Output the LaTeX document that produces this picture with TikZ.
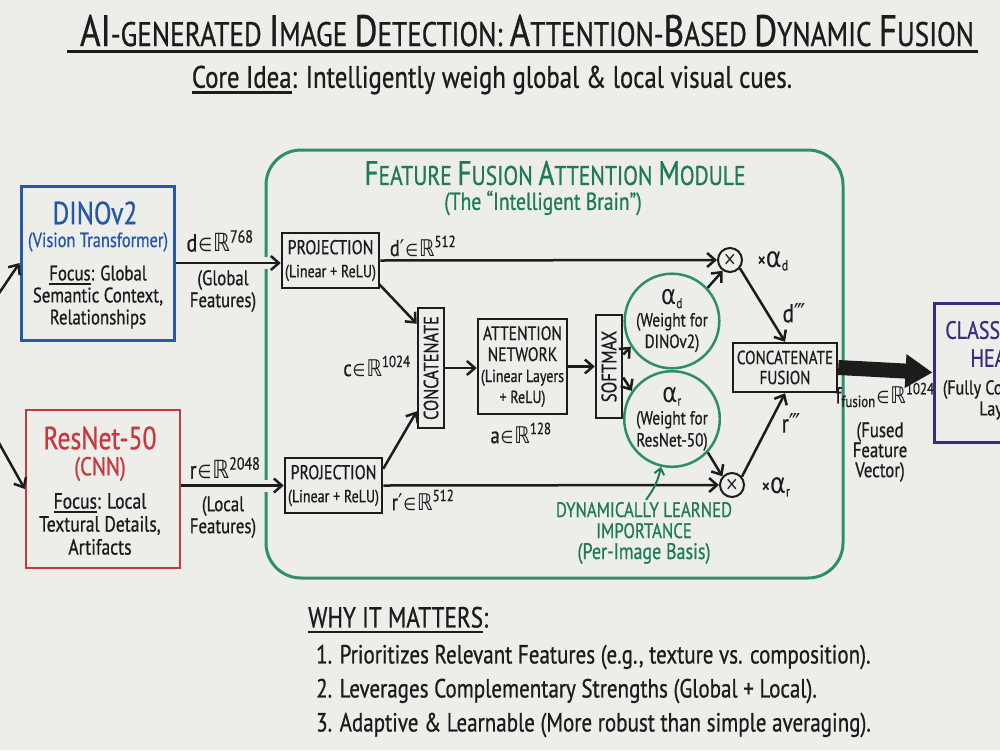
\documentclass[tikz,border=0pt]{standalone}
\usepackage{fontspec}
\setmainfont{PT Sans}[FakeStretch=0.8,FakeBold=0.7]
\newfontfamily\sym{DejaVu Sans}[FakeStretch=0.85]
\usetikzlibrary{arrows.meta,calc}
\definecolor{bd}{HTML}{2559A8}
\definecolor{rd}{HTML}{C63A3E}
\definecolor{gr}{HTML}{2E8E6C}
\definecolor{grt}{HTML}{1F7A58}
\definecolor{pu}{HTML}{3A2C7C}
\definecolor{ink}{HTML}{1C1C1C}
\definecolor{bgc}{HTML}{EDEDEA}
\newcommand\fs[2]{\fontsize{#1}{#2}\selectfont}
\newcommand\myul[1]{\setbox0=\hbox{#1}\rlap{\rule[-0.2em]{\wd0}{0.08em}}\box0}
\newcommand\inR{{\sym\kern1pt\scalebox{0.75}{∈}\kern1ptℝ}}
\newcommand\al{{\sym\fontsize{1.35em}{1.2em}\selectfont α}}
\tikzset{
  txt/.style={inner sep=0pt, text=ink, align=center},
  box/.style={draw=ink, line width=2.5pt, inner sep=0pt, align=center, text=ink},
  arr/.style={draw=ink, line width=2.5pt, -{Straight Barb[length=8pt,width=14pt]}},
  wcirc/.style={circle, draw=gr, line width=2.5pt, inner sep=0pt, align=center, text=ink},
  mul/.style={circle, draw=ink, line width=2pt, minimum size=24pt, inner sep=0pt, text=ink},
  gap/.style={preaction={draw=bgc, line width=12pt, -, shorten >=10pt, shorten <=10pt}},
}
\begin{document}
\begin{tikzpicture}[x=1pt,y=-1pt]
\clip (0,0) rectangle (1000,750);
\fill[bgc] (0,0) rectangle (1000,750);
\useasboundingbox (0,0) rectangle (1000,750);

% title
\node[txt, anchor=base] (title) at (527,46) {{\fs{44}{48}AI}{\fs{34}{36}-GENERATED }{\fs{44}{48}I}{\fs{34}{36}MAGE }{\fs{44}{48}D}{\fs{34}{36}ETECTION: }{\fs{44}{48}A}{\fs{34}{36}TTENTION-}{\fs{44}{48}B}{\fs{34}{36}ASED }{\fs{44}{48}D}{\fs{34}{36}YNAMIC }{\fs{44}{48}F}{\fs{34}{36}USION}};
\draw[ink, line width=3pt] ($(title.base west)+(-13,5)$) -- ($(title.base east)+(4,5)$);
\node[txt, font=\fs{31}{33}] (core) at (492,80) {\myul{Core Idea}: Intelligently weigh global \& local visual cues.};

% module
\node[draw=gr, line width=3pt, rounded corners=35pt, minimum width=577pt, minimum height=428pt, inner sep=0pt] (module) at (554.5,364) {};
\node[txt, text=grt] (mtitle) at (555,173) {{\fs{34}{36}F}{\fs{27}{29}EATURE }{\fs{34}{36}F}{\fs{27}{29}USION }{\fs{34}{36}A}{\fs{27}{29}TTENTION }{\fs{34}{36}M}{\fs{27}{29}ODULE}};
\node[txt, text=grt, font=\fs{24.5}{26}] (msub) at (543,203) {(The “Intelligent Brain”)};

% DINOv2
\node[box, draw=bd, line width=3pt, minimum width=153pt, minimum height=154pt] (dino) at (97.5,263) {};
\node[txt, text=bd, font=\fs{32}{34}] (dinoT) at (95,213) {DINOv2};
\node[txt, text=bd, font=\fs{20.5}{22}] (dinoS) at (98,242) {(Vision Transformer)};
\node[txt, font=\fs{21}{22}] (dinoF) at (98,297) {\myul{Focus}: Global\\Semantic Context,\\Relationships};

% ResNet
\node[box, draw=rd, line width=2.5pt, minimum width=154pt, minimum height=158pt] (resnet) at (103,489) {};
\node[txt, text=rd, font=\fs{32}{34}] (resT) at (100,438) {ResNet-50};
\node[txt, text=rd, font=\fs{26}{28}] (resS) at (100,469) {(CNN)};
\node[txt, font=\fs{22}{23}] (resF) at (100,524) {\myul{Focus}: Local\\Textural Details,\\Artifacts};

% incoming
\coordinate (inD) at (-15,314);
\coordinate (inR) at (-15,418);
\draw[arr] (inD) -- (dino.west);
\draw[arr] (inR) -- (resnet.west);

% projections
\node[box, minimum width=97pt, minimum height=55pt, font=\fs{20}{23}] (proj1) at (330.5,260.5) {PROJECTION\\\fs{17.5}{20}(Linear + ReLU)};
\node[box, minimum width=97pt, minimum height=55pt, font=\fs{20}{23}] (proj2) at (333.5,485.5) {PROJECTION\\\fs{17.5}{20}(Linear + ReLU)};

\draw[arr, gap] (dino.east) -- (dino.east -| proj1.west);
\draw[arr, gap] (resnet.east |- proj2.west) -- (proj2.west);
\node[txt, font=\fs{25}{26}] (dlab) at (220,241) {d\inR\textsuperscript{768}};
\node[txt, font=\fs{21}{22}] (dglob) at (223,291) {(Global\\Features)};
\node[txt, font=\fs{25}{26}] (rlab) at (225,468) {r\inR\textsuperscript{2048}};
\node[txt, font=\fs{21}{22}] (rloc) at (223,517) {(Local\\Features)};

% concat, attention, softmax
\node[box, minimum width=26pt, minimum height=120pt] (concat) at (431,368) {\rotatebox{90}{\fs{20.5}{22}CONCATENATE}};
\node[box, minimum width=89pt, minimum height=95pt, font=\fs{19.5}{21}] (attn) at (522.5,366.5) {ATTENTION\\NETWORK\\\fs{17.5}{21}(Linear Layers\\\fs{17.5}{21}+ ReLU)};
\node[box, minimum width=26pt, minimum height=103pt] (softmax) at (609,366.5) {\rotatebox{90}{\fs{21}{22}SOFTMAX}};
\node[txt, font=\fs{23}{24}] (clab) at (377,366) {c\inR\textsuperscript{1024}};
\node[txt, font=\fs{23}{24}] (alab) at (521,433) {a\inR\textsuperscript{128}};
\node[txt, font=\fs{23}{24}] (dplab) at (423,246) {d{\sym′}\inR\textsuperscript{512}};
\node[txt, font=\fs{23}{24}] (rplab) at (423,500) {r{\sym′}\inR\textsuperscript{512}};

% weights
\node[wcirc, minimum size=80pt, font=\fs{19}{21.5}] (ad) at (672,321) {\fs{20}{21.5}\al\textsubscript{d}\\(Weight for\\DINOv2)};
\node[wcirc, minimum size=84pt, font=\fs{19}{22}] (ar) at (672,419) {\fs{20}{22}\al\textsubscript{r}\\(Weight for\\ResNet-50)};

% multipliers
\node[mul, font=\sym\fs{19}{19}] (mulD) at (730,260) {×};
\node[mul, font=\sym\fs{19}{19}] (mulR) at (732,485) {×};
\node[txt, font=\fs{21}{24}] (xad) at (773,261) {×\al\textsubscript{d}};
\node[txt, font=\fs{21}{24}] (xar) at (776,487) {×\al\textsubscript{r}};

% fusion
\node[box, minimum width=104pt, minimum height=49pt, font=\fs{19}{20}] (fuse) at (785,367.5) {CONCATENATE\\FUSION};
\node[txt, font=\fs{26}{26}] (d3) at (794,313) {d{\sym‴}};
\node[txt, font=\fs{26}{26}] (r3) at (791,423) {r{\sym‴}};

% classifier
\node[box, draw=pu, line width=3pt, minimum width=132pt, minimum height=139pt] (cls) at (1000,372.5) {};
\node[txt, text=pu, font=\fs{25}{28}] (clsT) at (995,344) {CLASSIFIER\\HEAD};
\node[txt, font=\fs{20}{21}] (clsS) at (1000,400) {(Fully Connected\\Layer)};
\node[txt, font=\fs{23}{24}] (flab) at (885,395) {f\textsubscript{fusion}\inR\textsuperscript{1024}};
\node[txt, font=\fs{21}{20}] (fvec) at (880,452) {(Fused\\Feature\\Vector)};

% dynamic label
\node[txt, text=grt, font=\fs{21}{21}] (dyn) at (644,533) {DYNAMICALLY LEARNED\\IMPORTANCE\\\fs{22.5}{22}(Per-Image Basis)};

% connectors
\draw[arr] (proj1.east) -- (mulD.west);
\draw[arr] (proj2.east) -- (mulR.west);
\draw[arr] ($(proj1.south east)+(-1,-5)$) -- ($(concat.north west)+(0,17)$);
\draw[arr] ($(proj2.north east)+(0,12)$) -- ($(concat.south west)+(0,-18)$);
\draw[arr] (concat.east) -- (concat.east -| attn.west);
\draw[arr] (attn.east) -- (attn.east -| softmax.west);
\draw[arr] ($(softmax.east)+(0,-12)$) -- (ad.212);
\draw[arr] ($(softmax.east)+(0,11)$) -- (ar.145);
\draw[arr] (ad.43) -- (mulD.236);
\draw[arr] (ar.-43) -- (mulR.138);
\draw[arr] (mulD.-40) -- (fuse.north);
\draw[arr] (mulR.40) -- (fuse.south);
\draw[ink, line width=15pt, gap, -{Triangle[length=27pt,width=32pt]}] (fuse.east) -- (cls.west);
\draw[grt, line width=2pt, -{Straight Barb[length=6pt,width=10pt]}] ($(dyn.north)+(2,-2)$) to[bend right=12] (ar.-103);

% why it matters
\node[txt, anchor=west, font=\fs{29}{30}] (why) at (308,620) {\myul{WHY IT MATTERS}:};
\node[txt, anchor=west, font=\fs{26.3}{27}] (i1) at (316,657) {1. Prioritizes Relevant Features (e.g., texture vs. composition).};
\node[txt, anchor=west, font=\fs{26.3}{27}] (i2) at (316,691) {2. Leverages Complementary Strengths (Global + Local).};
\node[txt, anchor=west, font=\fs{26.3}{27}] (i3) at (316,725) {3. Adaptive \& Learnable (More robust than simple averaging).};
\end{tikzpicture}
\end{document}
